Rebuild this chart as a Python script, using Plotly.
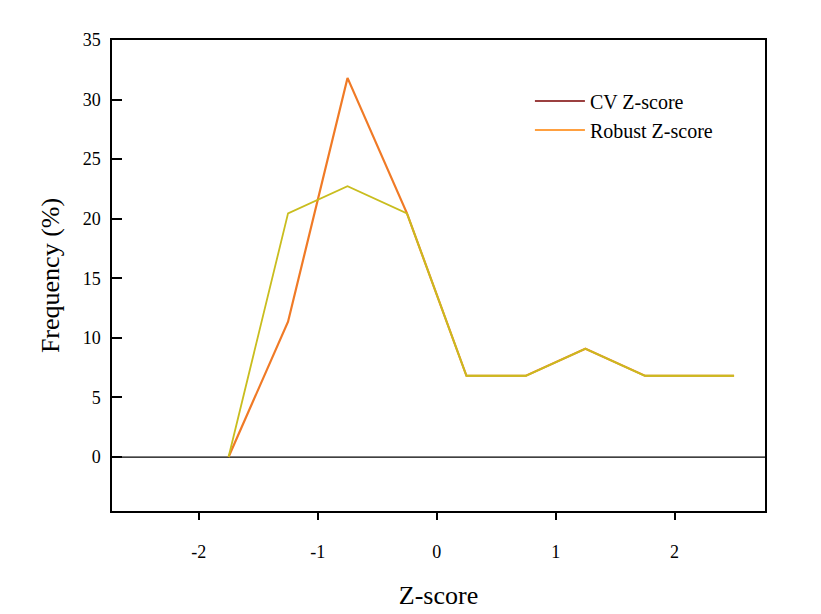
import plotly.graph_objects as go

z_scores = [-1.75, -1.25, -0.75, -0.25, 0.25, 0.75, 1.25, 1.75, 2.5]
cv_freq = [0.0, 11.36, 31.82, 20.45, 6.82, 6.82, 9.09, 6.82, 6.82]
robust_freq = [0.0, 20.45, 22.73, 20.45, 6.82, 6.82, 9.09, 6.82, 6.82]
x_ticks = [-2, -1, 0, 1, 2]
y_ticks = [0, 5, 10, 15, 20, 25, 30, 35]

FONT = "Liberation Serif, Times New Roman, serif"

fig = go.Figure()
# zero reference line
fig.add_trace(go.Scatter(x=[-2.75, 2.76], y=[0, 0], mode="lines",
                         line=dict(color="black", width=1.2), showlegend=False,
                         hoverinfo="skip"))
fig.add_trace(go.Scatter(x=z_scores, y=cv_freq, mode="lines",
                         line=dict(color="#f07a26", width=2.2), showlegend=False))
fig.add_trace(go.Scatter(x=z_scores, y=robust_freq, mode="lines",
                         line=dict(color="#c9bd1e", width=1.8), showlegend=False))
# legend entries
fig.add_trace(go.Scatter(x=[None], y=[None], mode="lines", name="CV Z-score",
                         line=dict(color="#7a0000", width=1.6)))
fig.add_trace(go.Scatter(x=[None], y=[None], mode="lines", name="Robust Z-score",
                         line=dict(color="#ff8000", width=1.6)))

fig.update_layout(
    width=821, height=614,
    margin=dict(l=112, r=56, t=40, b=103, autoexpand=False),
    paper_bgcolor="white", plot_bgcolor="white",
    font=dict(family=FONT, color="black", size=18),
    legend=dict(x=0.64, y=0.912, xanchor="left", yanchor="top",
                font=dict(family=FONT, size=20), bgcolor="rgba(0,0,0,0)",
                itemwidth=50, tracegroupgap=0),
    xaxis=dict(range=[-2.73, 2.76], tickvals=x_ticks, ticktext=[str(v) for v in x_ticks],
               showgrid=False, zeroline=False, showline=True, linecolor="black",
               linewidth=1.5, mirror=True, ticks="outside", ticklen=7, tickwidth=1.5,
               tickcolor="black", tickfont=dict(size=18, family=FONT),
               ticklabelstandoff=17, automargin=False,
               title=dict(text="Z-score", font=dict(size=26, family=FONT), standoff=24)),
    yaxis=dict(range=[-4.53, 35], tickvals=y_ticks, ticktext=[str(v) for v in y_ticks],
               showgrid=False, zeroline=False, showline=True, linecolor="black",
               linewidth=1.5, mirror=True, ticks="inside", ticklen=10, tickwidth=1.5,
               tickcolor="black", tickfont=dict(size=18, family=FONT),
               ticklabelstandoff=6, automargin=False,
               title=dict(text="Frequency (%)", font=dict(size=26, family=FONT), standoff=16)),
)

fig.write_html("out.html")
